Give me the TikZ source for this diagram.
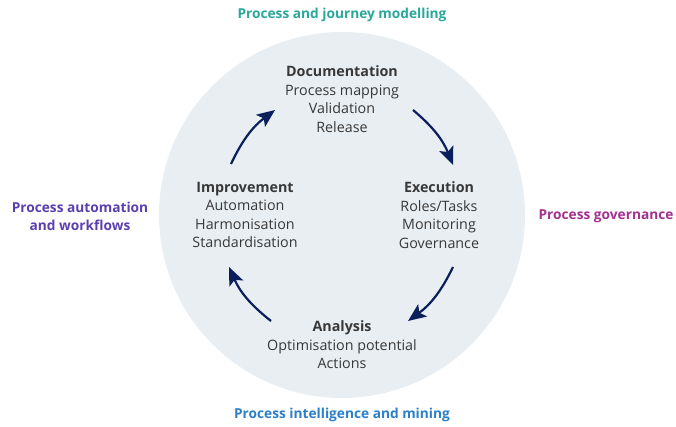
\documentclass[tikz,border=0pt]{standalone}
\usepackage{fontspec}
\setmainfont{Open Sans}
\usetikzlibrary{arrows.meta}
\definecolor{circfill}{HTML}{E9EEF2}
\definecolor{navy}{HTML}{0B1F5C}
\definecolor{teal}{HTML}{2AA79B}
\definecolor{purp}{HTML}{5B3FB0}
\definecolor{mag}{HTML}{A3308F}
\definecolor{blu}{HTML}{2B7FC8}
\definecolor{txt}{HTML}{383838}
\begin{document}
\begin{tikzpicture}[x=1pt,y=-1pt,
  group/.style={align=center,inner sep=0pt,text=txt,font=\fontsize{14.3}{18.6}\selectfont},
  outer/.style={align=center,inner sep=0pt,font=\fontsize{13.7}{18}\selectfont\bfseries},
  cyc/.style={draw=navy,line width=2.2pt,-{Stealth[length=18pt,width=15pt,inset=4pt]}}]
\useasboundingbox (0,0) rectangle (676,427);
\node[circle,fill=circfill,minimum size=366pt,inner sep=0pt] (circ) at (342,215) {};
\node[group] (doc) at (342,99) {\textbf{Documentation}\\Process mapping\\Validation\\Release};
\node[group] (imp) at (245,215) {\textbf{Improvement}\\Automation\\Harmonisation\\Standardisation};
\node[group] (exe) at (439,215) {\textbf{Execution}\\Roles/Tasks\\Monitoring\\Governance};
\node[group] (ana) at (342,345) {\textbf{Analysis}\\Optimisation potential\\Actions};
\node[outer,text=teal] (pjm) at (342,15) {Process and journey modelling};
\node[outer,text=purp] (paw) at (80,216) {Process automation\\and workflows};
\node[outer,text=mag] (pg) at (606,216) {Process governance};
\node[outer,text=blu] (pim) at (342,415) {Process intelligence and mining};
\coordinate (a1) at (231,164); \coordinate (a2) at (275,110);
\coordinate (b1) at (413,110); \coordinate (b2) at (453,165);
\coordinate (c1) at (453,267); \coordinate (c2) at (408,321);
\coordinate (d1) at (271,321); \coordinate (d2) at (229,267);
\draw[cyc] (a1) to[bend left=14] (a2);
\draw[cyc] (b1) to[bend left=14] (b2);
\draw[cyc] (c1) to[bend left=14] (c2);
\draw[cyc] (d1) to[bend left=14] (d2);
\end{tikzpicture}
\end{document}
